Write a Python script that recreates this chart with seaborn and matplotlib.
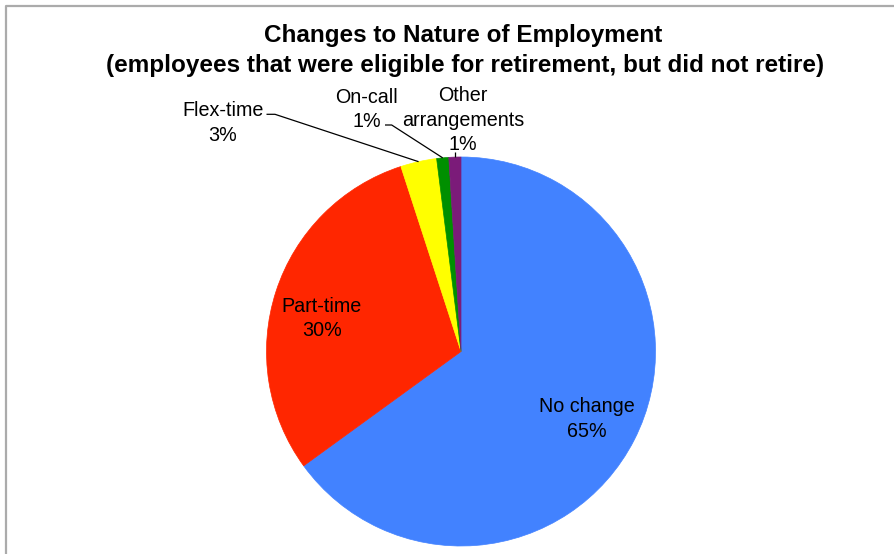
import matplotlib
matplotlib.use("Agg")
import matplotlib.pyplot as plt
import numpy as np
import seaborn as sns

# Survey breakdown: how work changed for employees who stayed on past eligibility
categories = ["No change", "Part-time", "Flex-time", "On-call", "Other\narrangements"]
shares = [65, 30, 3, 1, 1]
colors = ["#4282FF", "#FF2600", "#FFFF00", "#008F00", "#7B1B79"]
title_lines = ["Changes to Nature of Employment",
               "(employees that were eligible for retirement, but did not retire)"]

sns.set_theme(style="white")
plt.rcParams["font.family"] = ["Liberation Sans", "DejaVu Sans"]
plt.rcParams["text.color"] = "black"

W, H = 895, 554
fig = plt.figure(figsize=(W / 100, H / 100), dpi=100)
ax = fig.add_axes([0, 0, 1, 1])


def py(y):
    # pixel row measured from the top -> data y
    return H - y


cx, cy, r = 461.0, py(351.5), 194.5
wedges, _ = ax.pie(shares, colors=colors, startangle=90, counterclock=False,
                   center=(cx, cy), radius=r,
                   wedgeprops=dict(linewidth=0.5))
for w, c in zip(wedges, colors):
    w.set_edgecolor(c)

ax.set_xlim(0, W)
ax.set_ylim(0, H)
ax.set_aspect("equal")
ax.axis("off")


def rim_point(w):
    mid = np.deg2rad((w.theta1 + w.theta2) / 2)
    return cx + r * np.cos(mid), cy + r * np.sin(mid)


labels = [f"{c}\n{s}%" for c, s in zip(categories, shares)]
label_pos = [(586.7, 419.0), (321.7, 318.5), (222.7, 123.0), (366.7, 109.5), (463.3, 120.0)]
for lab, (x, y) in zip(labels, label_pos):
    ax.text(x, py(y), lab, ha="center", va="center", fontsize=14.2,
            linespacing=1.38, color="black")

# leader lines for the thin slices
lk = dict(color="black", lw=0.9, solid_capstyle="butt")
fx, fy = rim_point(wedges[2])
ax.plot([266.5, 275.0, fx], [py(114.3), py(114.3), fy], **lk)
ox, oy = rim_point(wedges[3])
ax.plot([385.0, 391.7, ox], [py(125.0), py(125.0), oy], **lk)
ax2x, ax2y = rim_point(wedges[4])
ax.plot([ax2x, ax2x], [py(151.5), ax2y], **lk)

# title
ax.text(463, py(42.3), title_lines[0], ha="center", va="baseline",
        fontsize=17.5, fontweight="bold")
ax.text(465, py(71.7), title_lines[1], ha="center", va="baseline",
        fontsize=17.5, fontweight="bold")

# chart frame
ax.plot([6.5, 6.5, W + 5], [-5, py(5.5), py(5.5)], color="#ababab", lw=1.6,
        clip_on=False)

fig.savefig("out.png", dpi=100)
